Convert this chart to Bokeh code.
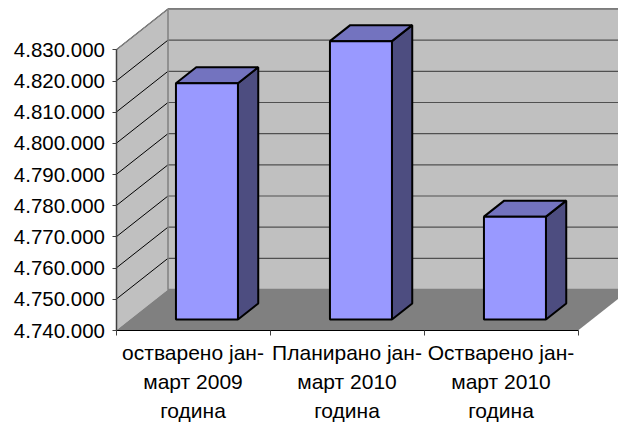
from bokeh.plotting import figure
from bokeh.core.properties import value
from bokeh.models import LinearAxis, FixedTicker, Range1d
from bokeh.embed import file_html
from bokeh.resources import INLINE

categories = ["остварено јан-\nмарт 2009\nгодина", "Планирано јан-\nмарт 2010\nгодина", "Остварено јан-\nмарт 2010\nгодина"]
values = [4815800, 4829300, 4773000]
y_ticks = [4740000, 4750000, 4760000, 4770000, 4780000, 4790000, 4800000, 4810000, 4820000, 4830000]
y_labels = ["4.740.000", "4.750.000", "4.760.000", "4.770.000", "4.780.000", "4.790.000", "4.800.000", "4.810.000", "4.820.000", "4.830.000"]

Y0, Y1 = y_ticks[0], y_ticks[-1]
N = len(categories)
PX_Y = 31.17 / 10000      # pixels per unit
PX_X = 154.0              # pixels per category
DX = 52 / PX_X            # wall depth in category units
DY = 41 / PX_Y            # wall depth in value units
GAP_W = 62 / PX_X
BAR_F = 11 / 41           # bar front position within the depth
BAR_D = 16 / 41           # bar depth
W, H = 618, 423
LEFT, BOTTOM = 115.5, 93

p = figure(width=W, height=H, output_backend="svg", toolbar_location=None,
           x_axis_type=None, y_axis_type=None,
           x_range=Range1d(-LEFT / PX_X, (W - LEFT) / PX_X),
           y_range=Range1d(Y0 - BOTTOM / PX_Y, Y0 + (H - BOTTOM) / PX_Y),
           min_border=0, frame_width=W, frame_height=H)
p.outline_line_color = None
p.grid.visible = False
p.background_fill_color = None

# walls and floor
p.patch([0, DX, DX, 0], [Y0, Y0 + DY, Y1 + DY, Y1], fill_color="#C0C0C0", line_color=None)
p.patch([DX, N + DX, N + DX, DX], [Y0 + DY, Y0 + DY, Y1 + DY, Y1 + DY], fill_color="#C0C0C0", line_color=None)
p.patch([0, N, N + DX, DX], [Y0, Y0, Y0 + DY, Y0 + DY], fill_color="#808080", line_color=None)

# gridlines
mid = y_ticks[1:]
p.multi_line([[0, DX] for _ in mid], [[v, v + DY] for v in mid], line_color="#000000", line_width=1)
p.multi_line([[DX, N + DX] for _ in mid], [[v + DY, v + DY] for v in mid],
             line_color=["#505050"] * (len(mid) - 1) + ["#000000"], line_width=1.2)
p.line([0, DX, DX, N + DX], [Y1, Y1 + DY, Y0 + DY, Y0 + DY], line_color="#808080", line_width=1.5)
p.line([DX, N + DX], [Y1 + DY, Y1 + DY], line_color="#909090", line_width=1.5)

# bars
for i, v in enumerate(values):
    l = i + (1 - GAP_W) / 2 + BAR_F * DX
    r = l + GAP_W
    b = Y0 + BAR_F * DY
    t = v + BAR_F * DY
    dx, dy = BAR_D * DX, BAR_D * DY
    p.patch([r, r + dx, r + dx, r], [b, b + dy, t + dy, t], fill_color="#4D4D80", line_color="black", line_width=2)
    p.patch([l, l + dx, r + dx, r], [t, t + dy, t + dy, t], fill_color="#7373BF", line_color="black", line_width=2)
    p.patch([l, r, r, l], [b, b, t, t], fill_color="#9999FF", line_color="black", line_width=2)

FONT = "Liberation Sans"
yax = LinearAxis(ticker=FixedTicker(ticks=y_ticks), bounds=(Y0, Y1), fixed_location=0,
                 major_label_overrides=dict(zip(y_ticks, y_labels)),
                 major_label_text_font=FONT, major_label_text_font_size="20.5px", major_label_text_color="black",
                 axis_line_color="#404040", axis_line_width=1.5,
                 major_tick_line_color="#404040", major_tick_out=4, major_tick_in=0,
                 minor_tick_out=0, minor_tick_in=0, major_label_standoff=7)
p.add_layout(yax, "left")

xax = LinearAxis(ticker=FixedTicker(ticks=[], minor_ticks=list(range(N + 1))), bounds=(0, N), fixed_location=Y0,
                 axis_line_color="black", axis_line_width=1,
                 major_tick_out=0, major_tick_in=0, minor_tick_out=5, minor_tick_in=0,
                 minor_tick_line_color="#404040")
p.add_layout(xax, "below")

p.text([i + 0.5 for i in range(N)], [Y0] * N, text=categories, text_align="center", text_baseline="top",
       y_offset=10, text_font=value(FONT), text_font_size="21px", text_color="black", text_line_height=1.28)

open("out.html", "w").write(file_html(p, INLINE))
